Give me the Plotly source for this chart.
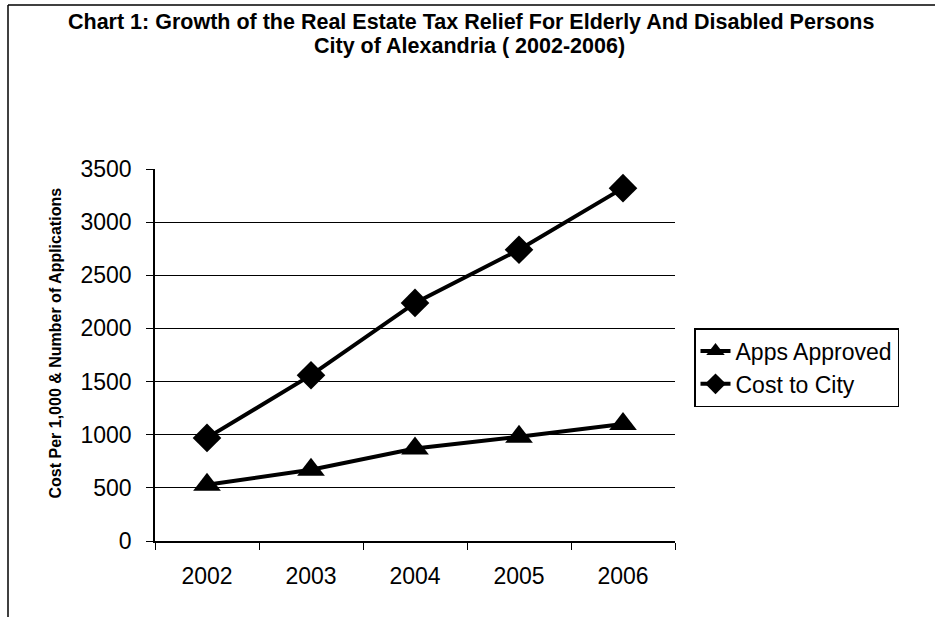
import plotly.graph_objects as go

years = ["2002", "2003", "2004", "2005", "2006"]
apps_approved = [530, 670, 870, 980, 1100]
cost_to_city = [970, 1560, 2240, 2740, 3320]
y_ticks = [0, 500, 1000, 1500, 2000, 2500, 3000, 3500]

L, R, T, B = 155, 260, 169, 76
W, H = 935, 617
pw, ph = W - L - R, H - T - B

def px(x):
    return (x - L) / pw

def py(y):
    return (H - B - y) / ph

fig = go.Figure()
fig.add_trace(go.Scatter(
    x=years, y=apps_approved, name="Apps Approved", mode="lines+markers",
    line=dict(color="black", width=4),
    marker=dict(symbol="triangle-up", size=24, color="black"),
))
fig.add_trace(go.Scatter(
    x=years, y=cost_to_city, name="Cost to City", mode="lines+markers",
    line=dict(color="black", width=4),
    marker=dict(symbol="diamond", size=22, color="black"),
))

title_font = dict(size=21.5, family="Liberation Sans, Arial, sans-serif", color="black")

fig.update_layout(
    width=W, height=H,
    margin=dict(l=L, r=R, t=T, b=B),
    paper_bgcolor="white", plot_bgcolor="white",
    font=dict(family="Liberation Sans, Arial, sans-serif", color="black"),
    showlegend=True,
    legend=dict(
        x=px(694), y=py(328), xanchor="left", yanchor="top",
        bordercolor="black", borderwidth=1.5, bgcolor="white",
        font=dict(size=23), tracegroupgap=0, itemwidth=30,
    ),
    xaxis=dict(
        type="category", tickson="boundaries", ticks="outside", ticklen=7,
        tickcolor="black", showline=True, linecolor="black", linewidth=1.5,
        showgrid=False, tickfont=dict(size=23), range=[-0.5, 4.5],
        ticklabelstandoff=14,
    ),
    yaxis=dict(
        range=[0, 3500], tickvals=y_ticks, ticks="outside", ticklen=7,
        tickcolor="black", showline=True, linecolor="black", linewidth=1.5,
        showgrid=True, gridcolor="black", gridwidth=1, zeroline=False,
        tickfont=dict(size=23), ticklabelstandoff=10,
    ),
    annotations=[
        dict(
            text="<b>Cost Per 1,000 & Number of Applications</b>",
            x=px(44), y=py(343), xref="paper", yref="paper",
            textangle=-90, showarrow=False,
            font=dict(size=16, family="Liberation Sans Narrow, Arial Narrow, Liberation Sans"),
        ),
        dict(
            text="<b>Chart 1: Growth of the Real Estate Tax Relief For Elderly And Disabled Persons</b>",
            x=px(471), y=py(22), xref="paper", yref="paper",
            xanchor="center", yanchor="middle", showarrow=False, font=title_font,
        ),
        dict(
            text="<b>City of Alexandria ( 2002-2006)</b>",
            x=px(469), y=py(46), xref="paper", yref="paper",
            xanchor="center", yanchor="middle", showarrow=False, font=title_font,
        ),
    ],
    shapes=[
        dict(type="line", xref="paper", yref="paper", x0=px(8), x1=px(935), y0=py(5), y1=py(5),
             line=dict(color="black", width=1.5)),
        dict(type="line", xref="paper", yref="paper", x0=px(8), x1=px(8), y0=py(5), y1=py(617),
             line=dict(color="black", width=1.5)),
    ],
)

fig.write_html("out.html")
